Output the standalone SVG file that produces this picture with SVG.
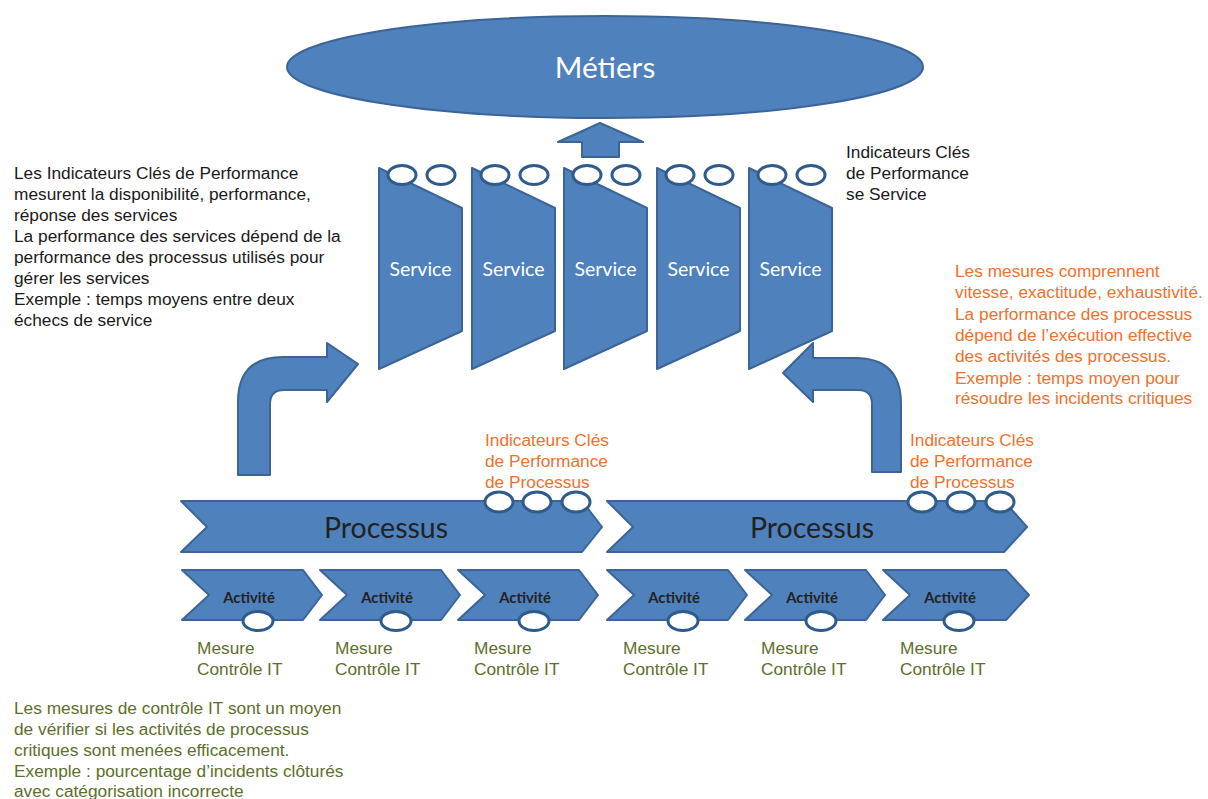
<svg xmlns="http://www.w3.org/2000/svg" width="1208" height="799" viewBox="0 0 1208 799">
<style>
.shape{fill:#4f81bd;stroke:#3c6496;stroke-width:2;stroke-linejoin:round}
.kpi{fill:#ffffff;stroke:#2f5b8c;stroke-width:3}
.cal{font-family:Lato,"Open Sans",sans-serif}
.w{fill:#ffffff}
.txt{font-family:"Liberation Sans",Arial,sans-serif;font-size:17.3px}
.blk{fill:#1a1a1a}
.org{fill:#f0712c}
.olv{fill:#5c6f2b}
.svc{font-size:19.5px}
.act{font-size:14.8px;font-weight:bold;fill:#222}
.proc{font-size:28.5px;fill:#222}
</style>
<rect width="1208" height="799" fill="#ffffff"/>

<g id="metiers">
<ellipse class="shape" cx="605" cy="67" rx="318" ry="51"/>
<text class="cal w" x="605" y="78" font-size="29.8" text-anchor="middle">Métiers</text>
</g>

<g id="connectors">
<path id="arrow-up" class="shape" d="M600,123 L643,142 L619,142 L619,157 L582,157 L582,142 L558,142 Z"/>
<path id="arrow-left" class="shape" d="M238,475 L238,402 Q238,357 283,357 L327,357 L327,343 L358,364 L327,402 L327,390 L284,390 Q270,390 270,404 L270,475 Z"/>
<path id="arrow-right" class="shape" d="M872,472 L872,404 Q872,390 858,390 L813,390 L813,402 L783,373 L813,343 L813,358 L855,358 Q901,358 901,404 L901,472 Z"/>
</g>

<g id="service1">
<polygon class="shape" points="379,168 462,208 462,331 379,369"/>
<ellipse class="kpi" cx="402" cy="175" rx="14" ry="9.5"/><ellipse class="kpi" cx="441" cy="175" rx="14" ry="9.5"/>
<text class="cal w svc" x="420.5" y="276" text-anchor="middle">Service</text>
</g>
<g id="service2">
<polygon class="shape" points="472,168 555,208 555,331 472,369"/>
<ellipse class="kpi" cx="495" cy="175" rx="14" ry="9.5"/><ellipse class="kpi" cx="534" cy="175" rx="14" ry="9.5"/>
<text class="cal w svc" x="513.5" y="276" text-anchor="middle">Service</text>
</g>
<g id="service3">
<polygon class="shape" points="564,168 647,208 647,331 564,369"/>
<ellipse class="kpi" cx="587" cy="175" rx="14" ry="9.5"/><ellipse class="kpi" cx="626" cy="175" rx="14" ry="9.5"/>
<text class="cal w svc" x="605.5" y="276" text-anchor="middle">Service</text>
</g>
<g id="service4">
<polygon class="shape" points="657,168 740,208 740,331 657,369"/>
<ellipse class="kpi" cx="680" cy="175" rx="14" ry="9.5"/><ellipse class="kpi" cx="719" cy="175" rx="14" ry="9.5"/>
<text class="cal w svc" x="698.5" y="276" text-anchor="middle">Service</text>
</g>
<g id="service5">
<polygon class="shape" points="749,168 832,208 832,331 749,369"/>
<ellipse class="kpi" cx="772" cy="175" rx="14" ry="9.5"/><ellipse class="kpi" cx="811" cy="175" rx="14" ry="9.5"/>
<text class="cal w svc" x="790.5" y="276" text-anchor="middle">Service</text>
</g>

<g id="processus1">
<polygon class="shape" points="181,501 582,501 602,527 582,552 181,552 207,527"/>
<ellipse class="kpi" cx="499" cy="502" rx="14" ry="10"/><ellipse class="kpi" cx="537" cy="502" rx="14" ry="10"/><ellipse class="kpi" cx="576" cy="502" rx="14" ry="10"/>
<text class="cal proc" x="386" y="538" text-anchor="middle">Processus</text>
</g>
<g id="processus2">
<polygon class="shape" points="607,501 1004,501 1027,527 1004,552 607,552 633,527"/>
<ellipse class="kpi" cx="922" cy="502" rx="14" ry="10"/><ellipse class="kpi" cx="961" cy="502" rx="14" ry="10"/><ellipse class="kpi" cx="1000" cy="502" rx="14" ry="10"/>
<text class="cal proc" x="812" y="538" text-anchor="middle">Processus</text>
</g>

<g id="activite1">
<polygon class="shape" points="182,570 303,570 322,595 303,620 182,620 209,595"/>
<ellipse class="kpi" cx="258" cy="621" rx="15" ry="9.5"/>
<text class="cal act" x="249" y="603" text-anchor="middle">Activité</text>
<text class="txt olv" x="197" y="654">Mesure</text><text class="txt olv" x="197" y="675">Contrôle IT</text>
</g>
<g id="activite2">
<polygon class="shape" points="320,570 441,570 460,595 441,620 320,620 347,595"/>
<ellipse class="kpi" cx="396" cy="621" rx="15" ry="9.5"/>
<text class="cal act" x="387" y="603" text-anchor="middle">Activité</text>
<text class="txt olv" x="335" y="654">Mesure</text><text class="txt olv" x="335" y="675">Contrôle IT</text>
</g>
<g id="activite3">
<polygon class="shape" points="458,570 579,570 598,595 579,620 458,620 485,595"/>
<ellipse class="kpi" cx="534" cy="621" rx="15" ry="9.5"/>
<text class="cal act" x="525" y="603" text-anchor="middle">Activité</text>
<text class="txt olv" x="474" y="654">Mesure</text><text class="txt olv" x="474" y="675">Contrôle IT</text>
</g>
<g id="activite4">
<polygon class="shape" points="607,570 728,570 747,595 728,620 607,620 634,595"/>
<ellipse class="kpi" cx="683" cy="621" rx="15" ry="9.5"/>
<text class="cal act" x="674" y="603" text-anchor="middle">Activité</text>
<text class="txt olv" x="623" y="654">Mesure</text><text class="txt olv" x="623" y="675">Contrôle IT</text>
</g>
<g id="activite5">
<polygon class="shape" points="745,570 866,570 885,595 866,620 745,620 772,595"/>
<ellipse class="kpi" cx="821" cy="621" rx="15" ry="9.5"/>
<text class="cal act" x="812" y="603" text-anchor="middle">Activité</text>
<text class="txt olv" x="761" y="654">Mesure</text><text class="txt olv" x="761" y="675">Contrôle IT</text>
</g>
<g id="activite6">
<polygon class="shape" points="883,570 1006,570 1029,595 1006,620 883,620 910,595"/>
<ellipse class="kpi" cx="959" cy="621" rx="15" ry="9.5"/>
<text class="cal act" x="950" y="603" text-anchor="middle">Activité</text>
<text class="txt olv" x="900" y="654">Mesure</text><text class="txt olv" x="900" y="675">Contrôle IT</text>
</g>

<g id="note-kpi-service-left" class="txt blk">
<text x="14" y="179">Les Indicateurs Clés de Performance</text>
<text x="14" y="200">mesurent la disponibilité, performance,</text>
<text x="14" y="221">réponse des services</text>
<text x="14" y="242">La performance des services dépend de la</text>
<text x="14" y="263">performance des processus utilisés pour</text>
<text x="14" y="284">gérer les services</text>
<text x="14" y="305">Exemple : temps moyens entre deux</text>
<text x="14" y="326">échecs de service</text>
</g>

<g id="note-kpi-service" class="txt blk">
<text x="846" y="158">Indicateurs Clés</text>
<text x="846" y="179">de Performance</text>
<text x="846" y="200">se Service</text>
</g>

<g id="note-mesures" class="txt org">
<text x="955" y="277">Les mesures comprennent</text>
<text x="955" y="298">vitesse, exactitude, exhaustivité.</text>
<text x="955" y="320">La performance des processus</text>
<text x="955" y="341">dépend de l’exécution effective</text>
<text x="955" y="362">des activités des processus.</text>
<text x="955" y="384">Exemple : temps moyen pour</text>
<text x="955" y="404">résoudre les incidents critiques</text>
</g>

<g id="note-kpi-proc1" class="txt org">
<text x="485" y="446">Indicateurs Clés</text>
<text x="485" y="467">de Performance</text>
<text x="485" y="488">de Processus</text>
</g>
<g id="note-kpi-proc2" class="txt org">
<text x="910" y="446">Indicateurs Clés</text>
<text x="910" y="467">de Performance</text>
<text x="910" y="488">de Processus</text>
</g>

<g id="note-controle" class="txt olv">
<text x="14" y="714">Les mesures de contrôle IT sont un moyen</text>
<text x="14" y="735">de vérifier si les activités de processus</text>
<text x="14" y="756">critiques sont menées efficacement.</text>
<text x="14" y="777">Exemple : pourcentage d’incidents clôturés</text>
<text x="14" y="797">avec catégorisation incorrecte</text>
</g>
</svg>
